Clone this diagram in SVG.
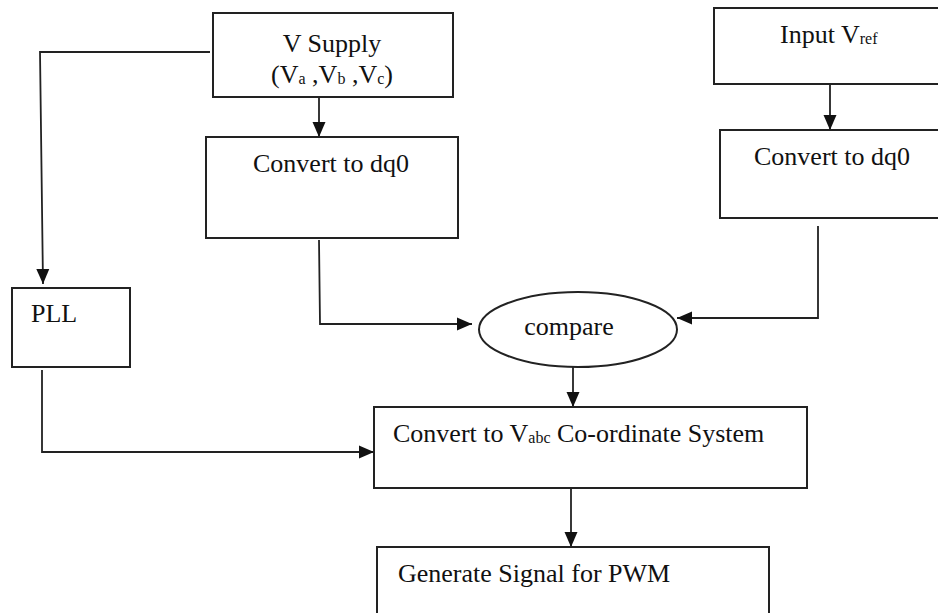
<svg xmlns="http://www.w3.org/2000/svg" width="938" height="613" viewBox="0 0 938 613">
<style>
.box{fill:#fff;stroke:#222;stroke-width:2}
.t{font-family:"Liberation Serif","Times New Roman",serif;font-size:26px;fill:#111}
.sub{font-size:16px}
.c{fill:none;stroke:#222;stroke-width:1.8}
</style>
<defs>
<marker id="ah" markerUnits="userSpaceOnUse" markerWidth="16" markerHeight="16" viewBox="0 0 16 16" refX="15" refY="8" orient="auto">
<path d="M0,1.5 L15,8 L0,14.5 Z" fill="#111"/>
</marker>
</defs>
<rect width="938" height="613" fill="#fff"/>
<g id="connectors">
<polyline class="c" points="210,52 40,52 43,284" marker-end="url(#ah)"/>
<line class="c" x1="319" y1="97" x2="319" y2="137" marker-end="url(#ah)"/>
<line class="c" x1="830" y1="84" x2="830" y2="130" marker-end="url(#ah)"/>
<polyline class="c" points="319,240 320,324 472,324" marker-end="url(#ah)"/>
<polyline class="c" points="818,226 818,318 677,318" marker-end="url(#ah)"/>
<line class="c" x1="573" y1="367" x2="573" y2="407" marker-end="url(#ah)"/>
<polyline class="c" points="42,370 42,452 374,452" marker-end="url(#ah)"/>
<line class="c" x1="571" y1="488" x2="571" y2="547" marker-end="url(#ah)"/>
</g>
<g id="vsupply">
<rect class="box" x="213" y="13" width="240" height="84"/>
<text class="t" x="332" y="52" text-anchor="middle">V Supply</text>
<text class="t" x="332" y="83" text-anchor="middle">(V<tspan class="sub" dy="1">a</tspan><tspan dy="-1"> ,V</tspan><tspan class="sub" dy="1">b</tspan><tspan dy="-1"> ,V</tspan><tspan class="sub" dy="1">c</tspan><tspan dy="-1">)</tspan></text>
</g>
<g id="dq0left">
<rect class="box" x="206" y="137" width="252" height="101"/>
<text class="t" x="253" y="172">Convert to dq0</text>
</g>
<g id="vref">
<rect class="box" x="714" y="8" width="230" height="76"/>
<text class="t" x="780" y="43">Input V<tspan class="sub" dy="1">ref</tspan></text>
</g>
<g id="dq0right">
<rect class="box" x="720" y="130" width="224" height="88"/>
<text class="t" x="754" y="165">Convert to dq0</text>
</g>
<g id="pll">
<rect class="box" x="12" y="288" width="118" height="79"/>
<text class="t" x="31" y="322">PLL</text>
</g>
<g id="compare">
<ellipse class="box" cx="578" cy="329.5" rx="99" ry="37.5"/>
<text class="t" x="569" y="335" text-anchor="middle">compare</text>
</g>
<g id="vabc">
<rect class="box" x="374" y="407" width="433" height="81"/>
<text class="t" x="393" y="442">Convert to V<tspan class="sub" dy="1">abc</tspan><tspan dy="-1">  Co-ordinate System</tspan></text>
</g>
<g id="pwm">
<rect class="box" x="377" y="547" width="392" height="80"/>
<text class="t" x="398" y="582">Generate Signal for PWM</text>
</g>
</svg>
